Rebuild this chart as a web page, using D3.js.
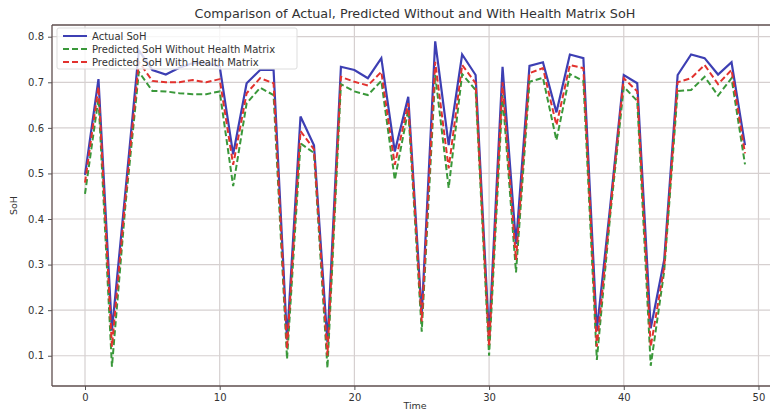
<!DOCTYPE html>
<html>
<head>
<meta charset="utf-8">
<script src="https://cdn.jsdelivr.net/npm/d3@7"></script>
<style>
  body { margin: 0; background: #fff; }
  text { font-family: "DejaVu Sans", sans-serif; fill: #333; }
</style>
</head>
<body>
<div id="chart"></div>
<script>
// series values, one per time step (0..49)
var actualSoH = [0.497, 0.707, 0.155, 0.46, 0.77, 0.727, 0.717, 0.732, 0.742, 0.742,
  0.735, 0.542, 0.698, 0.727, 0.727, 0.135, 0.625, 0.562, 0.13, 0.734,
  0.727, 0.709, 0.753, 0.548, 0.668, 0.19, 0.79, 0.562, 0.761, 0.716,
  0.14, 0.734, 0.345, 0.736, 0.744, 0.634, 0.761, 0.753, 0.155, 0.43,
  0.716, 0.698, 0.16, 0.31, 0.716, 0.761, 0.753, 0.717, 0.744, 0.562];
var predWithout = [0.455, 0.665, 0.076, 0.43, 0.723, 0.681, 0.68, 0.676, 0.674, 0.674,
  0.68, 0.472, 0.654, 0.688, 0.672, 0.093, 0.566, 0.545, 0.073, 0.696,
  0.68, 0.672, 0.703, 0.486, 0.64, 0.153, 0.716, 0.468, 0.718, 0.683,
  0.1, 0.672, 0.283, 0.701, 0.71, 0.573, 0.718, 0.703, 0.091, 0.41,
  0.69, 0.659, 0.078, 0.285, 0.681, 0.683, 0.712, 0.671, 0.709, 0.52];
var predWith = [0.48, 0.69, 0.12, 0.445, 0.745, 0.703, 0.70, 0.70, 0.705, 0.70,
  0.707, 0.519, 0.676, 0.709, 0.698, 0.115, 0.593, 0.553, 0.10, 0.712,
  0.701, 0.693, 0.723, 0.519, 0.654, 0.175, 0.745, 0.511, 0.738, 0.698,
  0.12, 0.70, 0.31, 0.72, 0.731, 0.606, 0.738, 0.731, 0.12, 0.42,
  0.709, 0.68, 0.12, 0.295, 0.70, 0.709, 0.738, 0.696, 0.727, 0.544];
var seriesNames = ["Actual SoH", "Predicted SoH Without Health Matrix", "Predicted SoH With Health Matrix"];
var xTicks = [0, 10, 20, 30, 40, 50];
var yTicks = [0.1, 0.2, 0.3, 0.4, 0.5, 0.6, 0.7, 0.8];

var svgWidth = 770;
var svgHeight = 411;
var margin = { top: 25, right: -8, bottom: 25, left: 52 };
var width = svgWidth - margin.left - margin.right;
var height = svgHeight - margin.top - margin.bottom;

var svg = d3.select("#chart")
  .append("svg")
  .attr("width", svgWidth)
  .attr("height", svgHeight);

var chartGroup = svg.append("g")
  .attr("transform", `translate(${margin.left}, ${margin.top})`);

var n = actualSoH.length;
var xScale = d3.scaleLinear()
  .domain([-0.05 * (n - 1), (n - 1) * 1.05])
  .range([0, width]);

var yScale = d3.scaleLinear()
  .domain([0.0336, 0.8257])
  .range([height, 0]);

// grid lines
chartGroup.append("g")
  .selectAll("line.vgrid")
  .data(xTicks)
  .enter()
  .append("line")
  .attr("x1", d => xScale(d))
  .attr("x2", d => xScale(d))
  .attr("y1", 0)
  .attr("y2", height)
  .attr("stroke", "#d6d0d0")
  .attr("stroke-width", 1.2);

chartGroup.append("g")
  .selectAll("line.hgrid")
  .data(yTicks)
  .enter()
  .append("line")
  .attr("x1", 0)
  .attr("x2", width)
  .attr("y1", d => yScale(d))
  .attr("y2", d => yScale(d))
  .attr("stroke", "#d6d0d0")
  .attr("stroke-width", 1.2);

// axes
var bottomAxis = d3.axisBottom(xScale).tickValues(xTicks).tickSize(4).tickPadding(4);
var leftAxis = d3.axisLeft(yScale).tickValues(yTicks).tickSize(4).tickPadding(4)
  .tickFormat(d3.format(".1f"));

var xAxis = chartGroup.append("g")
  .attr("transform", `translate(0, ${height})`)
  .call(bottomAxis);
var yAxis = chartGroup.append("g")
  .call(leftAxis);

[xAxis, yAxis].forEach(function(ax) {
  ax.select(".domain").remove();
  ax.selectAll(".tick line").attr("stroke", "#555");
  ax.selectAll(".tick text")
    .style("font-size", "10px")
    .style("font-family", "DejaVu Sans, sans-serif")
    .attr("fill", "#444");
});

// spines (left, bottom and top; right one falls outside the picture)
chartGroup.append("line").attr("x1", 0).attr("x2", 0).attr("y1", 0).attr("y2", height)
  .attr("stroke", "#5e4e4e").attr("stroke-width", 1.3);
chartGroup.append("line").attr("x1", 0).attr("x2", width).attr("y1", height).attr("y2", height)
  .attr("stroke", "#5e4e4e").attr("stroke-width", 1.3);
chartGroup.append("line").attr("x1", 0).attr("x2", width).attr("y1", 0).attr("y2", 0)
  .attr("stroke", "#5e4e4e").attr("stroke-width", 1.3);

// lines
var colors = ["#3d3fb3", "#3a983a", "#e2322e"];
var dashes = [null, "6,3", "6,3"];
var allSeries = [actualSoH, predWithout, predWith];

var line = d3.line()
  .x((d, i) => xScale(i))
  .y(d => yScale(d));

allSeries.forEach(function(s, k) {
  chartGroup.append("path")
    .datum(s)
    .attr("fill", "none")
    .attr("stroke", colors[k])
    .attr("stroke-width", k === 0 ? 2.2 : 2)
    .attr("stroke-linejoin", "miter")
    .attr("stroke-dasharray", dashes[k])
    .attr("d", line);
});

// legend
var legend = chartGroup.append("g")
  .attr("transform", "translate(5, 3)");
legend.append("rect")
  .attr("width", 240)
  .attr("height", 41)
  .attr("rx", 2)
  .attr("fill", "#fff")
  .attr("fill-opacity", 0.8)
  .attr("stroke", "#ddd");
seriesNames.forEach(function(name, k) {
  var yy = 8 + k * 13;
  legend.append("line")
    .attr("x1", 6).attr("x2", 30)
    .attr("y1", yy).attr("y2", yy)
    .attr("stroke", colors[k])
    .attr("stroke-width", 2)
    .attr("stroke-dasharray", dashes[k]);
  legend.append("text")
    .attr("x", 35)
    .attr("y", yy + 3.5)
    .style("font-size", "10px")
    .text(name);
});

// title and labels
svg.append("text")
  .attr("x", margin.left + width / 2)
  .attr("y", 18)
  .attr("text-anchor", "middle")
  .style("font-size", "12.8px")
  .text("Comparison of Actual, Predicted Without and With Health Matrix SoH");

svg.append("text")
  .attr("x", margin.left + width / 2)
  .attr("y", 409)
  .attr("text-anchor", "middle")
  .style("font-size", "9.5px")
  .text("Time");

svg.append("text")
  .attr("transform", `translate(17, ${margin.top + height / 2}) rotate(-90)`)
  .attr("text-anchor", "middle")
  .style("font-size", "9.5px")
  .text("SoH");
</script>
</body>
</html>
